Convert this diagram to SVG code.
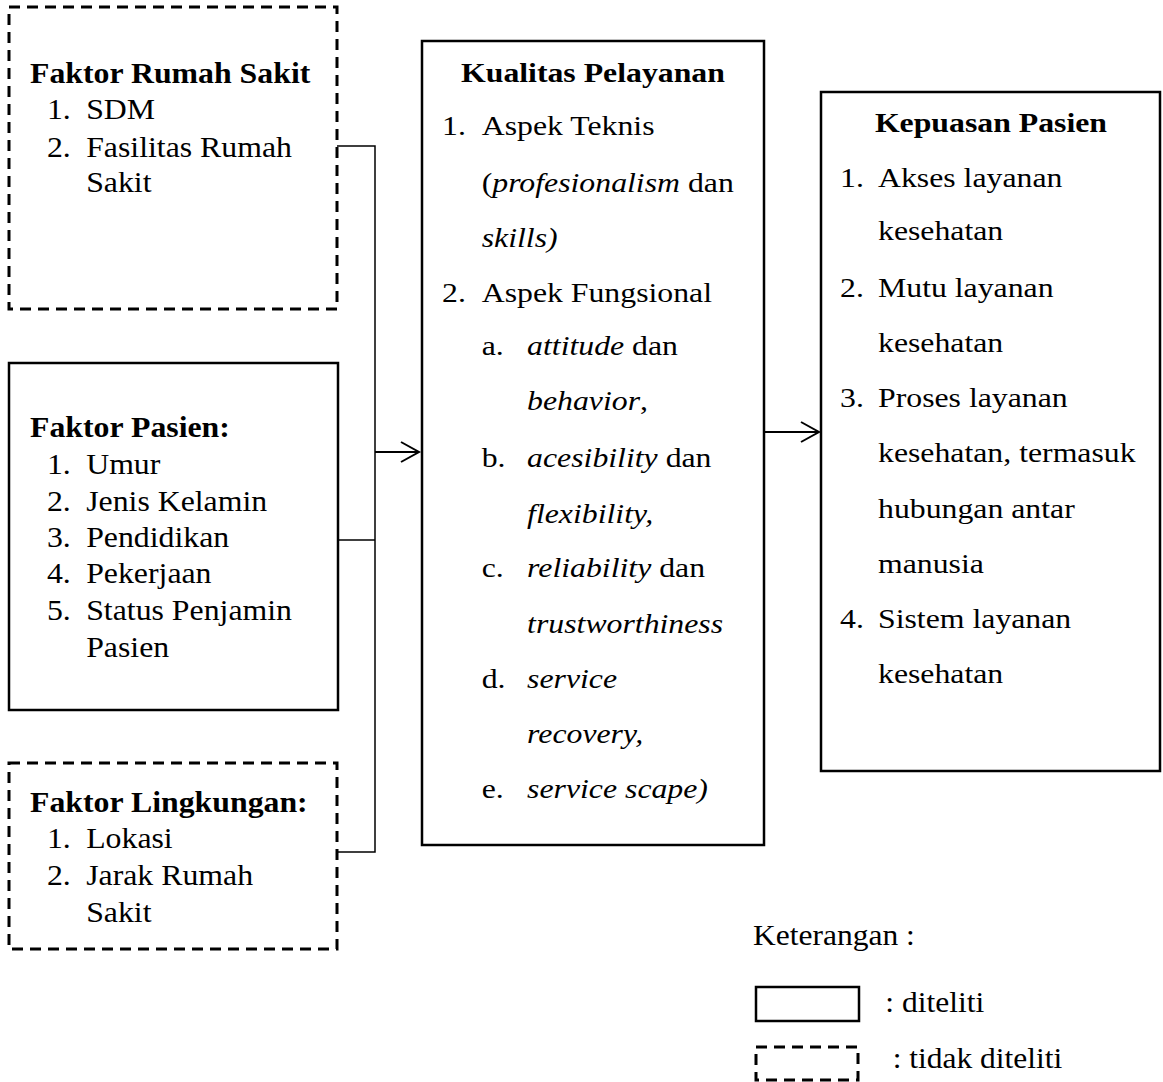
<svg xmlns="http://www.w3.org/2000/svg" width="1163" height="1082" viewBox="0 0 1163 1082">
<style>
text{font-family:"Liberation Serif","Times New Roman",serif;fill:#000}
.s30{font-size:30px}
.s28{font-size:28px}
.b{font-weight:bold}
.i{font-style:italic}
.solid{fill:#fff;stroke:#000;stroke-width:2.5}
.dash{fill:#fff;stroke:#000;stroke-width:3;stroke-dasharray:11 7}
.conn{fill:none;stroke:#000;stroke-width:1.5}
.arr{fill:none;stroke:#000;stroke-width:2}
</style>
<rect width="1163" height="1082" fill="#fff"/>
<g id="connectors">
<path class="conn" d="M337 146 H375 V852 H337"/>
<path class="conn" d="M338 540 H375"/>
<path class="arr" d="M375 452 H419 M401 442 L419 452 L401 462"/>
<path class="arr" d="M764 432 H819 M801 422 L819 432 L801 442"/>
</g>
<g id="faktor-rumah-sakit">
<rect class="dash" x="9" y="7" width="328" height="302"/>
<g class="s30" transform="translate(30 0) scale(1.06 1)">
<text class="b" x="0" y="83">Faktor Rumah Sakit</text>
<text x="16" y="119">1.</text><text x="53" y="119">SDM</text>
<text x="16" y="157">2.</text><text x="53" y="157">Fasilitas Rumah</text>
<text x="53" y="192">Sakit</text>
</g>
</g>
<g id="faktor-pasien">
<rect class="solid" x="9" y="363" width="329" height="347"/>
<g class="s30" transform="translate(30 0) scale(1.06 1)">
<text class="b" x="0" y="437">Faktor Pasien:</text>
<text x="16" y="474">1.</text><text x="53" y="474">Umur</text>
<text x="16" y="511">2.</text><text x="53" y="511">Jenis Kelamin</text>
<text x="16" y="547">3.</text><text x="53" y="547">Pendidikan</text>
<text x="16" y="583">4.</text><text x="53" y="583">Pekerjaan</text>
<text x="16" y="620">5.</text><text x="53" y="620">Status Penjamin</text>
<text x="53" y="657">Pasien</text>
</g>
</g>
<g id="faktor-lingkungan">
<rect class="dash" x="9" y="763" width="328" height="186"/>
<g class="s30" transform="translate(30 0) scale(1.06 1)">
<text class="b" x="0" y="812">Faktor Lingkungan:</text>
<text x="16" y="848">1.</text><text x="53" y="848">Lokasi</text>
<text x="16" y="885">2.</text><text x="53" y="885">Jarak Rumah</text>
<text x="53" y="922">Sakit</text>
</g>
</g>
<g id="kualitas-pelayanan">
<rect class="solid" x="422" y="41" width="342" height="804"/>
<g class="s28" transform="translate(442 0) scale(1.135 1)">
<text class="b" x="133" y="82" text-anchor="middle">Kualitas Pelayanan</text>
<text x="0" y="135">1.</text><text x="35" y="135">Aspek Teknis</text>
<text x="35" y="192">(<tspan class="i">profesionalism</tspan> dan</text>
<text x="35" y="247" class="i">skills)</text>
<text x="0" y="302">2.</text><text x="35" y="302">Aspek Fungsional</text>
<text x="35" y="355">a.</text><text x="75" y="355"><tspan class="i">attitude</tspan> dan</text>
<text x="75" y="410"><tspan class="i">behavior</tspan>,</text>
<text x="35" y="467">b.</text><text x="75" y="467"><tspan class="i">acesibility</tspan> dan</text>
<text x="75" y="523" class="i">flexibility,</text>
<text x="35" y="577">c.</text><text x="75" y="577"><tspan class="i">reliability</tspan> dan</text>
<text x="75" y="633" class="i">trustworthiness</text>
<text x="35" y="688">d.</text><text x="75" y="688" class="i">service</text>
<text x="75" y="743" class="i">recovery,</text>
<text x="35" y="798">e.</text><text x="75" y="798" class="i">service scape)</text>
</g>
</g>
<g id="kepuasan-pasien">
<rect class="solid" x="821" y="92" width="339" height="679"/>
<g class="s28" transform="translate(840 0) scale(1.135 1)">
<text class="b" x="133" y="132" text-anchor="middle">Kepuasan Pasien</text>
<text x="0" y="187">1.</text><text x="33.5" y="187">Akses layanan</text>
<text x="33.5" y="240">kesehatan</text>
<text x="0" y="297">2.</text><text x="33.5" y="297">Mutu layanan</text>
<text x="33.5" y="352">kesehatan</text>
<text x="0" y="407">3.</text><text x="33.5" y="407">Proses layanan</text>
<text x="33.5" y="462">kesehatan, termasuk</text>
<text x="33.5" y="518">hubungan antar</text>
<text x="33.5" y="573">manusia</text>
<text x="0" y="628">4.</text><text x="33.5" y="628">Sistem layanan</text>
<text x="33.5" y="683">kesehatan</text>
</g>
</g>
<g id="legend">
<rect class="solid" x="756" y="987" width="103" height="34"/>
<rect class="dash" x="756" y="1047" width="102" height="33"/>
<g class="s30" transform="translate(753 0) scale(1.05 1)">
<text x="0" y="945">Keterangan :</text>
<text x="126" y="1012">: diteliti</text>
<text x="133" y="1068">: tidak diteliti</text>
</g>
</g>
</svg>
